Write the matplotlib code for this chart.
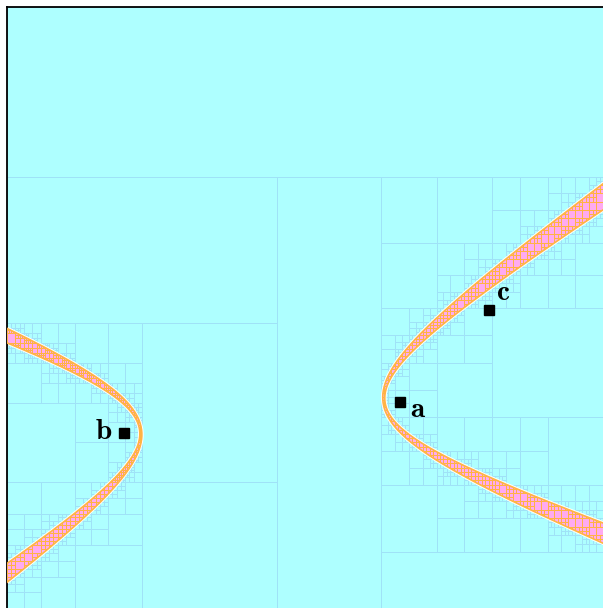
import numpy as np
import matplotlib
matplotlib.use('Agg')
import matplotlib.pyplot as plt
from matplotlib.collections import LineCollection
from matplotlib.path import Path
from matplotlib.patches import PathPatch

plt.rcParams['mathtext.fontset'] = 'cm'

# hyperbola band, in pixel units of the picture (y grows downwards)
center = (262.3, 416.0)
angle_deg = 6.7
inner_ab = (121.5, 67.3)   # curve closer to the centre
outer_ab = (123.5, 59.8)   # curve further out

# start cells of the subdivision: x0, x1, y0, y1
cell_x0 = [7, 7, 7, 7, 277, 381, 381, 381, 381]
cell_x1 = [603, 277, 277, 277, 381, 603, 603, 603, 603]
cell_y0 = [7, 177, 323, 482, 177, 177, 308, 417, 552]
cell_y1 = [177, 323, 482, 608, 608, 308, 417, 552, 608]

# query points
point_names = ['a', 'b', 'c']
point_x = [400, 124.3, 489]
point_y = [402, 432.7, 310]
label_x = [417.7, 104, 503]
label_y = [409.3, 430.7, 292]

bg = '#aeffff'
grid_col = '#9fe2f7'
pink = '#ffaaf0'
orange = '#ffb445'

cs = np.cos(np.radians(angle_deg))
sn = np.sin(np.radians(angle_deg))


def to_uv(x, y):
    dx = x - center[0]
    dy = center[1] - y
    return dx * cs + dy * sn, -dx * sn + dy * cs


def to_xy(u, v):
    return center[0] + u * cs - v * sn, center[1] - (u * sn + v * cs)


def beyond(u, v, ab):
    return np.abs(u) / ab[0] - np.sqrt(1 + (v / ab[1]) ** 2)


# raster of the band, used to test the cells
step = 0.5
gx = 7 + step / 2 + step * np.arange(int(596 / step))
gy = 7 + step / 2 + step * np.arange(int(601 / step))
X, Y = np.meshgrid(gx, gy)
U, V = to_uv(X, Y)
mask = (beyond(U, V, inner_ab) >= 0) & (beyond(U, V, outer_ab) <= 0)
S = np.zeros((mask.shape[0] + 1, mask.shape[1] + 1))
S[1:, 1:] = mask.cumsum(0).cumsum(1)


def count(x0, x1, y0, y1):
    i0 = int(round((x0 - 7) / step)); i1 = int(round((x1 - 7) / step))
    j0 = int(round((y0 - 7) / step)); j1 = int(round((y1 - 7) / step))
    c = S[j1, i1] - S[j0, i1] - S[j1, i0] + S[j0, i0]
    return c, max((i1 - i0) * (j1 - j0), 1)


leaves = []
stack = list(zip(cell_x0, cell_x1, cell_y0, cell_y1))
while stack:
    x0, x1, y0, y1 = stack.pop()
    w, h = x1 - x0, y1 - y0
    c, n = count(x0, x1, y0, y1)
    if c == 0 or c == n or max(w, h) < 4.5:
        leaves.append((x0, x1, y0, y1, c))
        continue
    xm, ym = (x0 + x1) / 2, (y0 + y1) / 2
    if w > 1.5 * h:
        stack += [(x0, xm, y0, y1), (xm, x1, y0, y1)]
    elif h > 1.5 * w:
        stack += [(x0, x1, y0, ym), (x0, x1, ym, y1)]
    else:
        stack += [(x0, xm, y0, ym), (xm, x1, y0, ym),
                  (x0, xm, ym, y1), (xm, x1, ym, y1)]


def edges(cells):
    segs = []
    for x0, x1, y0, y1, c in cells:
        segs += [[(x0, y0), (x1, y0)], [(x1, y0), (x1, y1)],
                 [(x1, y1), (x0, y1)], [(x0, y1), (x0, y0)]]
    return segs


fig = plt.figure(figsize=(6.03, 6.08), dpi=100)
ax = fig.add_axes([7 / 603, 0, 596 / 603, 601 / 608])
ax.set_facecolor(bg)
ax.set_xlim(7, 603)
ax.set_ylim(608, 7)
ax.set_xticks([])
ax.set_yticks([])
for side in ['right', 'bottom']:
    ax.spines[side].set_visible(False)
for side in ['left', 'top']:
    ax.spines[side].set_linewidth(1.3)

ax.add_collection(LineCollection(edges(leaves), colors=grid_col,
                                 linewidths=0.7, zorder=1))

# band outline and fill
t = np.linspace(-2.8, 2.8, 600)
paths = []
curves = []
for s in [1, -1]:
    xa, ya = to_xy(s * inner_ab[0] * np.cosh(t), inner_ab[1] * np.sinh(t))
    xb, yb = to_xy(s * outer_ab[0] * np.cosh(t), outer_ab[1] * np.sinh(t))
    curves += [(xa, ya), (xb, yb)]
    verts = np.vstack([np.column_stack([xa, ya]),
                       np.column_stack([xb, yb])[::-1],
                       [[xa[0], ya[0]]]])
    codes = [Path.MOVETO] + [Path.LINETO] * (len(verts) - 2) + [Path.CLOSEPOLY]
    paths.append(Path(verts, codes))
band = Path.make_compound_path(*paths)

for xc, yc in curves:
    ax.plot(xc, yc, color='white', lw=2.6, zorder=2, solid_capstyle='butt')

patch = PathPatch(band, facecolor=pink, edgecolor='none', zorder=3)
ax.add_patch(patch)

band_cells = [cell for cell in leaves if cell[4] > 0]
inner = LineCollection(edges(band_cells), colors=orange, linewidths=0.7, zorder=4)
ax.add_collection(inner)
inner.set_clip_path(patch)

for xc, yc in curves:
    ax.plot(xc, yc, color=orange, lw=1.2, zorder=5)

ax.plot(point_x, point_y, 's', color='black', ms=6.8, zorder=6)
for name, lx, ly in zip(point_names, label_x, label_y):
    ax.text(lx, ly, r'$\mathbf{' + name + '}$', fontsize=21,
            ha='center', va='center', zorder=7)

fig.savefig('out.png', dpi=100)
